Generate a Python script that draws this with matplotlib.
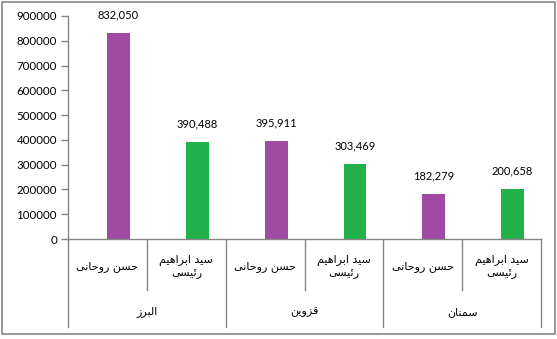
import matplotlib
matplotlib.use("Agg")
import matplotlib.pyplot as plt
from matplotlib.transforms import blended_transform_factory
from matplotlib.patches import Rectangle

# --- data ---
provinces = ["البرز", "قزوین", "سمنان"]
candidates = ["حسن روحانی", "سید ابراهیم\nرئیسی"]
votes = [832050, 390488, 395911, 303469, 182279, 200658]
vote_labels = ["832,050", "390,488", "395,911", "303,469", "182,279", "200,658"]
y_ticks = [0, 100000, 200000, 300000, 400000, 500000, 600000, 700000, 800000, 900000]

PURPLE = "#A04AA2"
GREEN = "#22B04B"
GRAY = "#868686"

# Arabic-script contextual forms: isolated, final, initial, medial
FORMS = {
    "ا": ("\uFE8D", "\uFE8E", None, None),
    "ب": ("\uFE8F", "\uFE90", "\uFE91", "\uFE92"),
    "ح": ("\uFEA1", "\uFEA2", "\uFEA3", "\uFEA4"),
    "د": ("\uFEA9", "\uFEAA", None, None),
    "ر": ("\uFEAD", "\uFEAE", None, None),
    "ز": ("\uFEAF", "\uFEB0", None, None),
    "س": ("\uFEB1", "\uFEB2", "\uFEB3", "\uFEB4"),
    "ق": ("\uFED5", "\uFED6", "\uFED7", "\uFED8"),
    "ل": ("\uFEDD", "\uFEDE", "\uFEDF", "\uFEE0"),
    "م": ("\uFEE1", "\uFEE2", "\uFEE3", "\uFEE4"),
    "ن": ("\uFEE5", "\uFEE6", "\uFEE7", "\uFEE8"),
    "ه": ("\uFEE9", "\uFEEA", "\uFEEB", "\uFEEC"),
    "و": ("\uFEED", "\uFEEE", None, None),
    "ئ": ("\uFE89", "\uFE8A", "\uFE8B", "\uFE8C"),
    "ی": ("\uFEEF", "\uFEF0", "\uFEF3", "\uFEF4"),
}


def shape_line(line):
    out = []
    for i, ch in enumerate(line):
        if ch not in FORMS:
            out.append(ch)
            continue
        prev = line[i - 1] if i > 0 else None
        nxt = line[i + 1] if i + 1 < len(line) else None
        iso, fin, ini, med = FORMS[ch]
        join_prev = prev in FORMS and FORMS[prev][2] is not None
        join_next = nxt in FORMS and ini is not None
        if join_prev and join_next:
            out.append(med)
        elif join_prev:
            out.append(fin)
        elif join_next:
            out.append(ini)
        else:
            out.append(iso)
    return "".join(reversed(out))


def rtl(text):
    return "\n".join(shape_line(l) for l in text.split("\n"))


W, H = 557, 339
fig = plt.figure(figsize=(W / 100, H / 100), dpi=100)
fig.patch.set_facecolor("white")

# chart frame
fig.patches.append(Rectangle((1.5 / W, 1 - 333.5 / H), 553.5 / W, 332 / H,
                             transform=fig.transFigure, fill=False,
                             edgecolor=GRAY, linewidth=1.2))

ax = fig.add_axes([68 / W, 1 - 239 / H, (541 - 68) / W, (239 - 16) / H])

n = len(votes)
xs = list(range(n))
colors = [PURPLE if i % 2 == 0 else GREEN for i in xs]
offset = 0.14
bars = ax.bar([x + offset for x in xs], votes, width=0.29, color=colors, zorder=2)

for b, lab in zip(bars, vote_labels):
    ax.annotate(lab, (b.get_x() + b.get_width() / 2, b.get_height()),
                xytext=(0, 9), textcoords="offset points", ha="center", va="bottom",
                fontsize=8, family=["Lato", "DejaVu Sans"], color="black")

ax.set_xlim(-0.5, n - 0.5)
ax.set_ylim(0, 900000)
ax.set_yticks(y_ticks)
ax.set_yticklabels([str(v) for v in y_ticks], fontsize=8.3, family=["Lato", "DejaVu Sans"])
ax.tick_params(axis="y", direction="out", length=5, color=GRAY, width=1, pad=3)
ax.set_xticks([])

for s in ["top", "right"]:
    ax.spines[s].set_visible(False)
for s in ["left", "bottom"]:
    ax.spines[s].set_color(GRAY)
    ax.spines[s].set_linewidth(1)

# multi-level category axis
tr = blended_transform_factory(ax.transData, fig.transFigure)


def fy(py):
    return 1 - py / H


for i in range(n + 1):
    xb = i - 0.5
    bottom = 327 if i % 2 == 0 else 290
    ax.plot([xb, xb], [fy(239), fy(bottom)], transform=tr, color=GRAY,
            linewidth=1, clip_on=False)

for i in xs:
    ax.text(i, fy(267), rtl(candidates[i % 2]), transform=tr, ha="center", va="center",
            fontsize=8, family="DejaVu Sans", linespacing=1.3)

for g, name in enumerate(provinces):
    ax.text(2 * g + 0.5, fy(312), rtl(name), transform=tr, ha="center", va="center",
            fontsize=8, family="DejaVu Sans")

fig.savefig("out.png", dpi=100, facecolor="white")
